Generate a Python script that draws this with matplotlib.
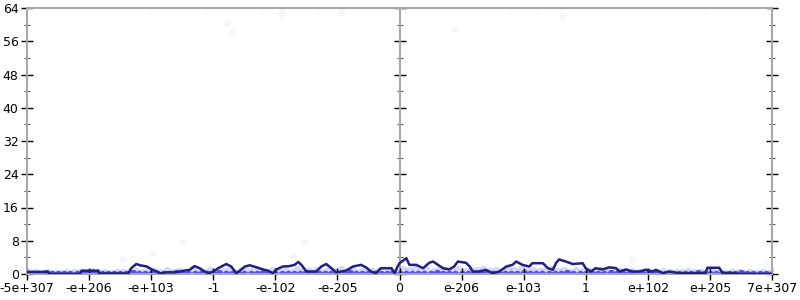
import matplotlib
matplotlib.use('Agg')
import matplotlib.pyplot as plt
import numpy as np

plt.rcParams['font.family'] = ['DejaVu Sans']

# tick labels along the x axis (one per integer position -6..6)
x_labels = ['-5e+307', '-e+206', '-e+103', '-1', '-e-102', '-e-205', '0',
            'e-206', 'e-103', '1', 'e+102', 'e+205', '7e+307']

# smoothed curve (dark line)
line_x = [-6.0, -5.66, -5.64, -5.15, -5.12, -4.85, -4.84, -4.37, -4.32, -4.24,
          -4.18, -4.07, -3.99, -3.91, -3.86, -3.75, -3.62, -3.51, -3.38, -3.30,
          -3.22, -3.16, -3.08, -3.00, -2.92, -2.79, -2.71, -2.63, -2.57, -2.49,
          -2.41, -2.30, -2.20, -2.12, -2.04, -1.98, -1.88, -1.77, -1.69, -1.63,
          -1.58, -1.50, -1.34, -1.26, -1.18, -1.13, -1.02, -0.86, -0.75, -0.62,
          -0.54, -0.46, -0.38, -0.30, -0.13, -0.08, -0.03,
          0.0, 0.11, 0.16, 0.27, 0.38, 0.48, 0.54, 0.62, 0.70, 0.80,
          0.88, 0.94, 1.07, 1.13, 1.18, 1.29, 1.39, 1.50, 1.61, 1.72,
          1.82, 1.88, 1.98, 2.09, 2.14, 2.31, 2.39, 2.47, 2.52, 2.57,
          2.68, 2.79, 2.95, 3.00, 3.08, 3.16, 3.27, 3.38, 3.49, 3.54,
          3.65, 3.75, 3.86, 3.97, 4.08, 4.13, 4.24, 4.34, 4.50, 4.93,
          4.96, 5.15, 5.20, 5.42, 5.44, 6.0]
line_y = [0.5, 0.5, 0.0, 0.0, 0.8, 0.8, 0.1, 0.1, 1.4, 2.4,
          2.1, 1.8, 1.1, 0.6, 0.2, 0.4, 0.4, 0.7, 1.0, 1.9,
          1.4, 0.8, 0.2, 0.6, 1.4, 2.4, 1.8, 0.2, 0.8, 1.8,
          2.1, 1.6, 1.1, 0.8, 0.2, 1.1, 1.8, 1.9, 2.2, 2.9,
          2.2, 0.6, 0.6, 1.8, 2.4, 1.8, 0.4, 0.8, 1.8, 2.2,
          1.6, 0.6, 0.2, 1.4, 1.4, 0.2, 1.8,
          2.6, 3.8, 2.2, 2.2, 1.4, 2.7, 3.0, 2.2, 1.4, 1.1,
          1.8, 3.0, 2.7, 1.8, 0.6, 0.6, 1.0, 0.2, 0.6, 1.8,
          2.2, 3.0, 2.2, 1.8, 2.6, 2.6, 1.4, 1.0, 2.6, 3.5,
          3.0, 2.4, 2.6, 1.4, 0.6, 1.4, 1.1, 1.6, 1.4, 0.6,
          1.1, 0.6, 0.6, 1.0, 0.6, 1.0, 0.2, 0.6, 0.2, 0.2,
          1.5, 1.5, 0.3, 0.2, 0.0, 0.0]

# raw samples near the bottom (dense band)
band_y0 = [0.0, 0.1, 0.0, 0.2, 0.0, 0.1, 0.0, 0.0, 0.1, 0.0, 0.2, 0.0, 0.1, 0.0, 0.0,
           0.1, 0.0, 0.2, 0.0, 0.1, 0.0, 0.0, 0.1, 0.0, 0.2, 0.0, 0.1, 0.0, 0.0, 0.1,
           0.0, 0.2, 0.0, 0.1, 0.0, 0.0, 0.1, 0.0, 0.2, 0.0, 0.1, 0.0, 0.0, 0.1, 0.0,
           0.2, 0.0, 0.1, 0.0, 0.0, 0.1, 0.0, 0.2, 0.0, 0.1, 0.0, 0.0, 0.1, 0.0, 0.2,
           0.0, 0.1, 0.0, 0.0, 0.1, 0.0, 0.2, 0.0, 0.1, 0.0, 0.0, 0.1, 0.0, 0.2, 0.0,
           0.1, 0.0, 0.0, 0.1, 0.0, 0.2, 0.0, 0.1, 0.0, 0.0, 0.1, 0.0, 0.2, 0.0, 0.1,
           0.0, 0.0, 0.1, 0.0, 0.2, 0.0, 0.1, 0.0, 0.0, 0.1, 0.0, 0.2, 0.0, 0.1, 0.0,
           0.0, 0.1, 0.0, 0.2, 0.0, 0.1, 0.0, 0.0, 0.1, 0.0, 0.2, 0.0, 0.1, 0.0, 0.0,
           0.1]
band_y1 = [0.6, 0.4, 0.3, 0.5, 0.2, 0.3, 0.6, 0.4, 0.5, 0.3, 0.7, 0.4, 0.5, 0.3, 0.4,
           0.6, 0.4, 0.8, 0.5, 1.0, 0.7, 0.5, 0.9, 0.6, 0.8, 0.5, 1.1, 0.7, 0.6, 0.9,
           0.5, 0.8, 1.0, 0.6, 0.9, 0.7, 1.2, 0.8, 0.6, 1.0, 0.7, 0.9, 0.6, 1.1, 0.8,
           0.7, 1.0, 0.6, 0.9, 0.8, 1.1, 0.7, 0.9, 0.6, 1.0, 0.8, 0.7, 0.5, 0.9, 0.6,
           1.2, 0.9, 1.1, 0.8, 1.0, 0.7, 1.2, 0.9, 0.8, 1.1, 0.7, 1.0, 0.9, 1.3, 0.8,
           1.0, 0.7, 1.1, 0.9, 1.2, 0.8, 1.0, 0.7, 0.9, 1.1, 0.8, 1.0, 0.6, 0.9, 0.7,
           0.8, 0.6, 0.9, 0.7, 0.5, 0.8, 0.6, 0.7, 0.5, 0.8, 0.6, 0.5, 0.7, 0.4, 0.6,
           0.5, 0.7, 0.4, 0.5, 0.6, 0.4, 0.5, 0.3, 0.5, 0.4, 0.3, 0.5, 0.3, 0.4, 0.3,
           0.4]

# scattered outliers
out_x = [-4.45, -3.99, -3.48, -1.54, -1.71, -2.78, -2.69, -1.91, -0.95,
         0.89, 2.62, 3.75, 5.90,
         -4.0, -3.8, -3.3, -3.1, -2.6, -2.4, -2.2, -1.9, -1.6, -1.3, -0.9, -0.1,
         0.1, 0.3, 0.6, 1.4, 1.8, 2.2, 2.6, 3.0, 3.4, 4.2, 4.9]
out_y = [3.6, 5.0, 7.7, 7.7, 4.3, 60.5, 58.4, 62.6, 63.0,
         58.9, 62.0, 3.4, 2.2,
         64.3, 64.3, 64.3, 64.3, 64.3, 64.3, 64.3, 64.3, 64.3, 64.3, 64.3, 64.3,
         64.3, 64.3, 64.3, 64.3, 64.3, 64.3, 64.3, 64.3, 64.3, 64.3, 64.3]

fig = plt.figure(figsize=(8, 3), dpi=100)
ax = fig.add_axes([27 / 800, 26 / 300, 745 / 800, 266 / 300])

band_x = np.linspace(-6, 6, len(band_y0))
ax.scatter(band_x, band_y0, s=28, color='#2a2ae0', alpha=0.8, linewidths=0)
ax.scatter(band_x + 0.05, band_y1, s=28, color='#4848e0', alpha=0.22, linewidths=0)
ax.scatter(out_x, out_y, s=28, color='#8080e8', alpha=0.07, linewidths=0)

ax.plot(line_x, line_y, color='#20207f', lw=1.8, zorder=5)

ax.set_xlim(-6, 6)
ax.set_ylim(0, 64)
ax.set_xticks(range(-6, 7))
ax.set_xticklabels(x_labels)
ax.set_yticks(range(0, 65, 8))
ax.set_yticks(range(4, 64, 8), minor=True)

gray = '#a8a8a8'
for side in ['left', 'right', 'top', 'bottom']:
    ax.spines[side].set_color(gray)
    ax.spines[side].set_linewidth(1.5)

ax.tick_params(axis='both', which='major', direction='inout', length=8, width=1,
               color='black', labelsize=9, pad=2)
ax.tick_params(axis='y', which='minor', direction='inout', length=4, width=0.8,
               color='#555555')
ax.tick_params(axis='y', which='both', right=True)

mid = ax.secondary_yaxis(0.5)
for side in mid.spines:
    mid.spines[side].set_color(gray)
    mid.spines[side].set_linewidth(1.5)
mid.set_yticks(range(0, 65, 8))
mid.set_yticks(range(4, 64, 8), minor=True)
mid.set_yticklabels([])
mid.tick_params(axis='y', which='major', direction='inout', length=8, width=1,
                color='black', labelleft=False, labelright=False)
mid.tick_params(axis='y', which='minor', direction='inout', length=4, width=0.8,
                color='#555555')

fig.savefig('out.png', dpi=100)
